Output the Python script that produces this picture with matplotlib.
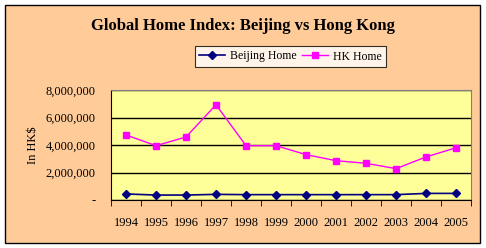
import matplotlib
matplotlib.use("Agg")
import matplotlib.pyplot as plt
from matplotlib.patches import Rectangle
from matplotlib.ticker import FuncFormatter, FixedLocator

years = ["1994", "1995", "1996", "1997", "1998", "1999", "2000", "2001", "2002", "2003", "2004", "2005"]
beijing = [440000, 360000, 360000, 410000, 390000, 390000, 390000, 390000, 390000, 390000, 480000, 480000]
hk = [4730000, 3950000, 4580000, 6930000, 3950000, 3950000, 3300000, 2860000, 2670000, 2280000, 3130000, 3800000]

plt.rcParams['font.family'] = ['Liberation Serif', 'DejaVu Serif']

W, H = 486, 248
fig = plt.figure(figsize=(W/100, H/100), dpi=100)
fig.patch.set_facecolor('white')
fig.patches.append(Rectangle((5/W, 1-243/H), 475/W, 238/H, transform=fig.transFigure,
                             facecolor='#FFCC99', edgecolor='black', linewidth=1.0, zorder=-5))

ax = fig.add_axes([111/W, 1-200/H, 360/W, 110/H])
ax.set_zorder(2)
ax.set_facecolor('#FFFF99')
x = list(range(len(years)))
ax.plot(x, beijing, color='#000080', marker='D', markersize=4, linewidth=1.2, label='Beijing Home')
ax.plot(x, hk, color='#FF00FF', marker='s', markersize=5, linewidth=1.0, label='HK Home')

ax.set_xlim(-0.5, len(years) - 0.5)
ax.set_ylim(0, 8000000)
ax.set_yticks([0, 2000000, 4000000, 6000000, 8000000])
ax.yaxis.set_major_formatter(FuncFormatter(lambda v, p: '-' if v == 0 else f'{int(v):,}'))
ax.set_xticks(x)
ax.set_xticklabels(years)
ax.xaxis.set_minor_locator(FixedLocator([i + 0.5 for i in range(-1, len(years))]))
ax.tick_params(axis='x', which='major', length=0, pad=12, labelsize=9)
ax.tick_params(axis='x', which='minor', length=4, direction='out', color='black')
ax.tick_params(axis='y', length=0, pad=11, labelsize=9)
ax.grid(axis='y', color='black', linewidth=1.0)
ax.set_axisbelow(True)
for s in ['top', 'right']:
    ax.spines[s].set_color('#808080')
for s in ['left', 'bottom']:
    ax.spines[s].set_color('black')
ax.set_ylabel('In HK$', fontsize=9, labelpad=5)

fig.text(243/W, 1-26/H, 'Global Home Index: Beijing vs Hong Kong', ha='center', va='center',
         fontsize=12, fontweight='bold')
leg = fig.legend(loc='center', bbox_to_anchor=(290.5/W, 1-56.5/H), ncol=2, fontsize=8.5,
                 frameon=True, fancybox=False, edgecolor='black', handlelength=2.2,
                 columnspacing=0.5, handletextpad=0.4, borderpad=0.35, borderaxespad=0)
leg.get_frame().set_linewidth(0.8)
leg.set_zorder(3)
leg._legend_handle_box.align = "top"
for col in leg._legend_handle_box.get_children():
    col.align = "top"
    for item in col.get_children():
        item.align = "top"

fig.savefig('out.png', dpi=100)
